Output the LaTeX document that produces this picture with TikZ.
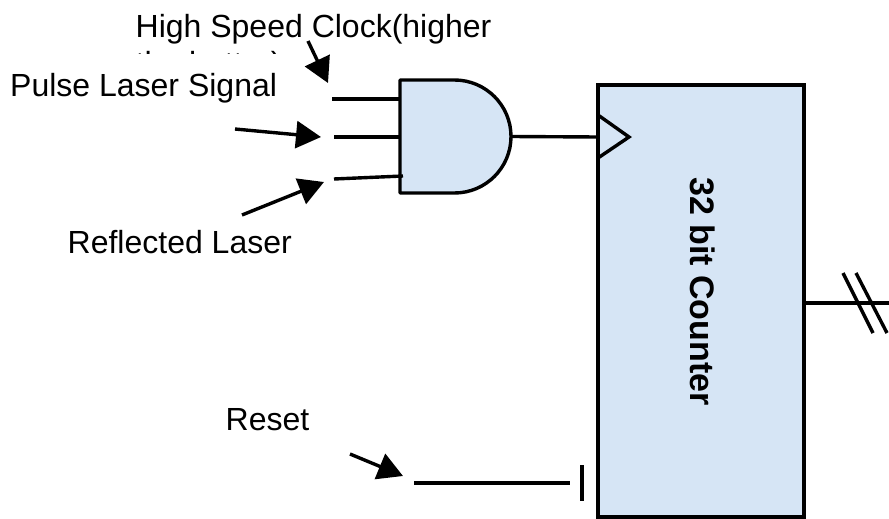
\documentclass[tikz,border=0pt]{standalone}
\usepackage{fontspec}
\setmainfont{Liberation Sans}
\usetikzlibrary{arrows.meta}
\definecolor{partblue}{HTML}{D6E5F5}
\begin{document}
\begin{tikzpicture}[x=1pt,y=-1pt,line width=3.4pt,>={Triangle[length=25pt,width=27pt]},
    lbl/.style={font=\fontsize{32}{37}\selectfont,inner sep=0pt,anchor=base west},
    wire/.style={draw=black,line width=3.4pt}]
  \useasboundingbox (0,0) rectangle (889,519);
  \node[minimum width=111pt,minimum height=113pt,inner sep=0pt,outer sep=0pt] (gate) at (455.5,136.5) {};
  \draw[fill=partblue,line join=round] (gate.north west) -- ([xshift=-56.5pt]gate.north east)
    arc[start angle=90,end angle=-90,radius=56.5pt] -- (gate.south west) -- cycle;
  \node[draw,fill=partblue,minimum width=206pt,minimum height=432pt,inner sep=0pt,outer sep=0pt] (counter) at (701,301) {};
  \node[rotate=-90,font=\fontsize{34}{39}\selectfont\bfseries,inner sep=0pt] (countlbl) at (703,291.5) {32 bit Counter};

  \begin{scope}
    \clip (100,0) rectangle (500,54);
    \node[lbl,align=left,anchor=north west] (clklbl) at (134,13) {High Speed Clock(higher\\the better)};
  \end{scope}
  \node[lbl] (pulselbl) at (8.5,96) {Pulse Laser Signal};
  \node[lbl] (refllbl) at (66,253) {Reflected Laser};
  \node[lbl] (resetlbl) at (224,430) {Reset};

  \coordinate (clkin) at (332,99);
  \coordinate (pulsein) at (334,137);
  \coordinate (reflin) at (334,179);
  \coordinate (reflgate) at (403,176);
  \coordinate (clktail) at (308,41);
  \coordinate (clkhead) at (328,83);
  \coordinate (pulsetail) at (235,129);
  \coordinate (pulsehead) at (321,137);
  \coordinate (refltail) at (242,215);
  \coordinate (reflhead) at (324,182);
  \coordinate (resettail) at (350,454);
  \coordinate (resethead) at (403,476);
  \coordinate (resetin) at (414,483);
  \coordinate (resetout) at (570,483);
  \coordinate (ticktop) at (582,465);
  \coordinate (tickbot) at (582,501);
  \coordinate (trileft) at (598,115);
  \coordinate (tritip) at (629,137);
  \coordinate (tribot) at (598,158);
  \coordinate (busout) at (889,303);

  \draw[->] (clktail) -- (clkhead);
  \draw[->] (pulsetail) -- (pulsehead);
  \draw[->] (refltail) -- (reflhead);
  \draw[->] (resettail) -- (resethead);

  \draw[wire] (clkin) -- (clkin -| gate.west);
  \draw[wire] (pulsein) -- (pulsein -| gate.west);
  \draw[wire] (reflin) -- (reflgate);
  \draw[wire] (gate.east) -- (tritip -| counter.west);
  \draw[wire] (trileft) -- (tritip) -- (tribot);
  \draw[wire] (resetin) -- (resetout);
  \draw[wire] (ticktop) -- (tickbot);
  \draw[wire] (counter.east |- busout) -- (busout);
  \draw[wire] (843,273) -- (873,333);
  \draw[wire] (856,273) -- (887,333);
\end{tikzpicture}
\end{document}
